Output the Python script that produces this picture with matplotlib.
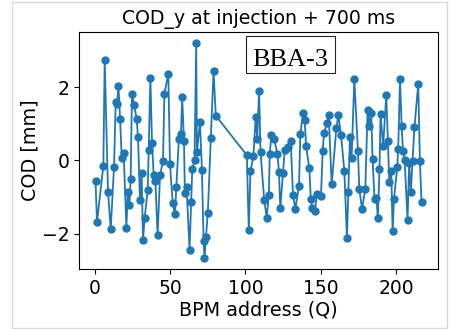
import matplotlib
matplotlib.use("Agg")
import matplotlib.pyplot as plt
from matplotlib.patches import Rectangle

bpm_x = [0.5, 1.5, 5.7, 6.6, 8.8, 10.6, 12.8, 13.9, 14.8, 15.7, 16.8, 17.9, 19.2, 21.0, 21.9,
         23.0, 23.8, 24.7, 26.0, 27.8, 28.7, 30.0, 31.1, 32.0, 33.1, 35.1, 35.8, 36.9, 38.0, 39.1,
         40.2, 41.7, 43.3, 45.3, 46.2, 48.8, 49.9, 51.7, 53.2, 54.1, 55.8, 57.2, 58.0, 59.2, 59.8,
         60.9, 62.9, 64.0, 64.7, 66.2, 67.3, 67.8, 69.8, 71.1, 72.2, 72.8, 73.8, 75.0, 77.0, 78.8,
         80.3,
         100.9, 102.2, 103.3, 105.2, 106.8, 107.8, 109.0, 110.0, 112.4, 114.1, 115.5, 116.1, 117.2,
         119.0, 121.2, 122.2, 123.1, 124.9, 126.0, 128.2, 130.0, 131.5, 133.1, 135.5, 136.4, 138.2,
         139.3, 140.2, 142.4, 143.3, 144.2, 146.0, 147.4, 150.1, 151.2, 152.1, 154.1, 155.2, 157.2,
         160.3, 161.6, 163.4, 165.6, 167.3, 168.2, 169.3, 170.4, 172.2, 174.6, 175.5, 177.3, 179.5,
         181.0, 182.1, 183.4, 184.3, 185.6, 186.9, 187.8, 188.9, 189.6, 191.3, 193.4, 194.5, 195.4,
         196.7, 197.6, 198.5, 200.7, 201.3, 202.5, 203.6, 204.5, 205.6, 207.5, 208.6, 209.7, 210.8,
         212.1, 214.6, 215.7, 216.8]

cod_y = [-0.56, -1.68, -0.14, 2.74, -0.86, -1.88, -0.17, 1.59, 1.54, 2.03, 1.13, 0.07, 0.19, -1.84, -0.86,
         -1.22, -0.52, 1.81, 1.52, 1.14, 0.63, -1.08, -0.34, -2.16, -1.58, -0.81, 0.29, 2.24, 0.47, -0.41,
         -0.55, -2.04, -0.41, -0.01, 1.82, 2.36, -0.09, -1.16, -1.47, -0.73, 0.57, 0.71, 1.74, 0.52, -0.89,
         -0.72, -2.43, -1.13, -0.23, 0.0, 3.2, 0.22, 1.05, -0.26, -2.2, -2.67, -2.08, -1.44, 0.6, 2.43,
         1.22,
         0.14, -1.91, -0.29, 0.11, 1.18, 0.59, 1.88, 0.22, -1.07, -1.56, -0.93, 0.18, 0.69,
         0.58, 0.18, -0.32, -1.3, -0.34, 0.27, 0.36, 0.54, -0.93, -1.32, -0.69, 0.73, 1.29,
         1.09, 0.38, -0.22, -1.04, -1.29, -1.39, -0.92, -0.96, 0.26, 0.74, 1.01, 1.23, -0.65,
         0.88, 1.23, 0.69, -0.3, -2.12, -0.85, 0.63, 0.06, 2.22, 0.26, -0.77, -1.32, -0.79,
         1.38, 0.93, 1.3, 0.04, -1.05, -1.02, -1.58, -0.24, 1.27, 0.38, 1.79, 0.53, -0.58,
         -0.29, -1.92, -1.05, -0.18, 0.3, 2.22, 0.93, 0.25, 0.0, -1.63, -0.06, -0.86, -0.01,
         0.9, 2.09, -0.02, -1.14]

title = "COD_y at injection + 700 ms"
xlabel = "BPM address (Q)"
ylabel = "COD [mm]"
tag = "BBA-3"

fig = plt.figure(figsize=(4.5, 3.29), dpi=100)
ax = fig.add_axes([0.176, 0.182, 0.797, 0.720])
ax.plot(bpm_x, cod_y, '-o', color='#1f77b4', markersize=5, linewidth=1.3)
ax.set_xticks([0, 50, 100, 150, 200])
ax.set_yticks([-2, 0, 2])
ax.tick_params(labelsize=13.5)
ax.set_title(title, fontsize=13.6, pad=6)
ax.set_xlabel(xlabel, fontsize=13.8, labelpad=2)
ax.set_ylabel(ylabel, fontsize=13.8, labelpad=2)

# annotation box
ax.add_patch(Rectangle((0.465, 0.826), 0.248, 0.158, transform=ax.transAxes,
                       facecolor='white', edgecolor='#222222', linewidth=0.8, zorder=4))
ax.text(0.589, 0.856, tag, transform=ax.transAxes, ha='center', va='baseline',
        fontsize=19, family='Liberation Serif', zorder=5)

fig.patches.append(Rectangle((12/450, 1/329), 435/450, 326/329, transform=fig.transFigure,
                             fill=False, edgecolor='#d8d8d8', linewidth=1))
fig.savefig("out.png", dpi=100)
